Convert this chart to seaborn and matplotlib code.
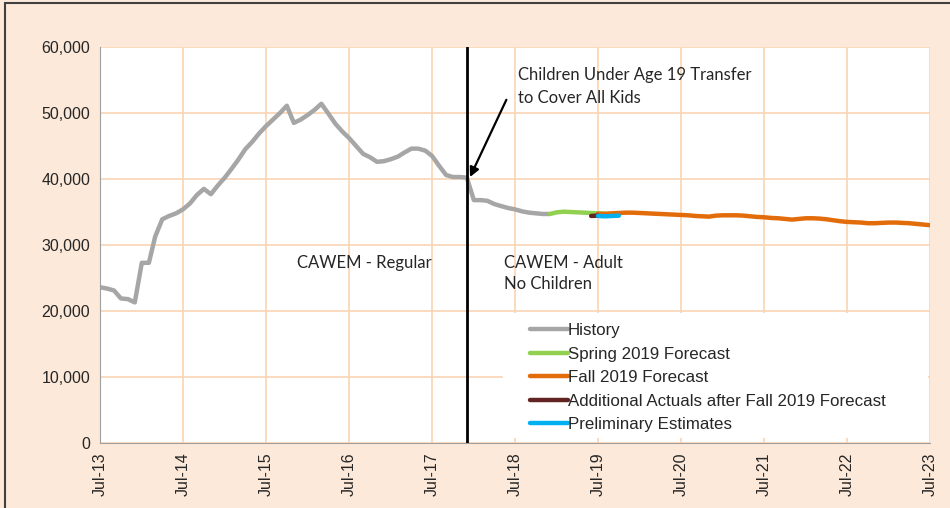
import numpy as np
import pandas as pd
import seaborn as sns
import matplotlib.pyplot as plt
import matplotlib.dates as mdates
from matplotlib.patches import Rectangle

# monthly values, Jul-13 .. Dec-18
history = [23600, 23400, 23100, 21900, 21800, 21300, 27300, 27300, 31300, 33900, 34400, 34800,
           35400, 36300, 37600, 38500, 37700, 39000, 40200, 41600, 42900, 44500, 45600, 46900,
           48000, 49000, 50000, 51100, 48500, 49000, 49700, 50500, 51400, 49900, 48400, 47200,
           46200, 45000, 43800, 43300, 42600, 42700, 43000, 43400, 44000, 44600, 44600, 44300,
           43500, 42000, 40600, 40300, 40300, 40200, 36800, 36800, 36700, 36200, 35900, 35600,
           35400, 35100, 34900, 34800, 34700, 34700]
# Dec-18 .. Sep-19
spring19 = [34700, 34950, 35050, 35000, 34950, 34900, 34850, 34800, 34750, 34700]
# Jul-19 .. Jul-23
fall19 = [34750, 34700, 34800, 34850, 34900, 34900, 34850, 34800, 34750, 34700, 34650, 34600,
          34550, 34500, 34400, 34350, 34300, 34450, 34500, 34500, 34500, 34450, 34350, 34250,
          34200, 34100, 34050, 33950, 33850, 33950, 34050, 34050, 34000, 33900, 33750, 33600,
          33500, 33450, 33400, 33300, 33300, 33350, 33400, 33400, 33350, 33300, 33200, 33100,
          33000]
# Jun-19 .. Jul-19
add_actuals = [34400, 34450]
# Jul-19 .. Oct-19
prelim = [34400, 34350, 34400, 34450]

hist_dates = pd.date_range("2013-07-01", periods=len(history), freq="MS")
spring_dates = pd.date_range("2018-12-01", periods=len(spring19), freq="MS")
fall_dates = pd.date_range("2019-07-01", periods=len(fall19), freq="MS")
add_dates = pd.date_range("2019-06-01", periods=len(add_actuals), freq="MS")
prelim_dates = pd.date_range("2019-07-01", periods=len(prelim), freq="MS")

df = pd.concat([
    pd.DataFrame({"date": hist_dates, "value": history, "series": "History"}),
    pd.DataFrame({"date": spring_dates, "value": spring19, "series": "Spring 2019 Forecast"}),
    pd.DataFrame({"date": fall_dates, "value": fall19, "series": "Fall 2019 Forecast"}),
    pd.DataFrame({"date": add_dates, "value": add_actuals, "series": "Additional Actuals after Fall 2019 Forecast"}),
    pd.DataFrame({"date": prelim_dates, "value": prelim, "series": "Preliminary Estimates"}),
])
colors = {"History": "#A6A6A6", "Spring 2019 Forecast": "#92D050", "Fall 2019 Forecast": "#E36C0A",
          "Additional Actuals after Fall 2019 Forecast": "#632523", "Preliminary Estimates": "#00B0F0"}

sns.set_style("white")
plt.rcParams['font.family'] = ['Liberation Sans', 'DejaVu Sans']
note_font = ["Lato", "DejaVu Sans"]

fig = plt.figure(figsize=(9.5, 5.08), dpi=100, facecolor="#FDE9D9")
ax = fig.add_axes([100/950, 65/508, 830/950, 396/508])
ax.set_facecolor("white")

sns.lineplot(data=df, x="date", y="value", hue="series", palette=colors,
             hue_order=list(colors.keys()), linewidth=3.2, ax=ax, legend=True)

ax.set_xlim(pd.Timestamp("2013-07-01"), pd.Timestamp("2023-07-01"))
ax.set_ylim(0, 60000)
ax.set_yticks(np.arange(0, 60001, 10000))
ax.yaxis.set_major_formatter(plt.FuncFormatter(lambda v, p: f"{int(v):,}"))
ax.xaxis.set_major_locator(mdates.MonthLocator(bymonth=7))
ax.xaxis.set_major_formatter(mdates.DateFormatter("%b-%y"))
plt.setp(ax.get_xticklabels(), rotation=90, fontsize=11.5)
plt.setp(ax.get_yticklabels(), fontsize=11.5)
ax.set_xlabel("")
ax.set_ylabel("")
ax.grid(True, color="#FBD4B4", linewidth=1.2)
ax.set_axisbelow(True)
for s in ["top", "right"]:
    ax.spines[s].set_visible(False)
for s in ["left", "bottom"]:
    ax.spines[s].set_color("#A0A0A0")
ax.tick_params(axis="both", direction="out", length=4, color="#A0A0A0", width=1, pad=3)

# policy change line
ax.axvline(pd.Timestamp("2017-12-01"), color="black", linewidth=2, zorder=5)
ax.annotate("", xy=(pd.Timestamp("2017-12-15"), 40300), xytext=(pd.Timestamp("2018-05-24"), 52000),
            arrowprops=dict(arrowstyle="-|>", color="black", lw=1.6, mutation_scale=14,
                            shrinkA=0, shrinkB=0), zorder=6)
ax.text(pd.Timestamp("2018-07-12"), 54000, "Children Under Age 19 Transfer\nto Cover All Kids",
        fontsize=12, family=note_font, va="center", ha="left", linespacing=1.5)
ax.text(pd.Timestamp("2015-11-15"), 27300, "CAWEM - Regular", fontsize=12,
        family=note_font, va="center")
ax.text(pd.Timestamp("2018-05-15"), 25650, "CAWEM - Adult\nNo Children", fontsize=12,
        family=note_font, va="center", linespacing=1.4)

# white box behind the legend
ax.add_patch(Rectangle((0.4855, 0.0126), 0.512, 0.316, transform=ax.transAxes,
                       facecolor="white", edgecolor="none", zorder=1))
leg = ax.legend(loc="upper left", bbox_to_anchor=(0.518, 0.302), frameon=False, fontsize=12.2,
                handlelength=2.25, handletextpad=0.0, labelspacing=0.5, borderaxespad=0,
                borderpad=0)
for line in leg.get_lines():
    line.set_linewidth(3.2)

fig.patches.append(Rectangle((0.005, -0.05), 1.2, 1.045, transform=fig.transFigure,
                             fill=False, edgecolor="#404040", linewidth=1.5))

fig.savefig("out.png", dpi=100, facecolor=fig.get_facecolor())
